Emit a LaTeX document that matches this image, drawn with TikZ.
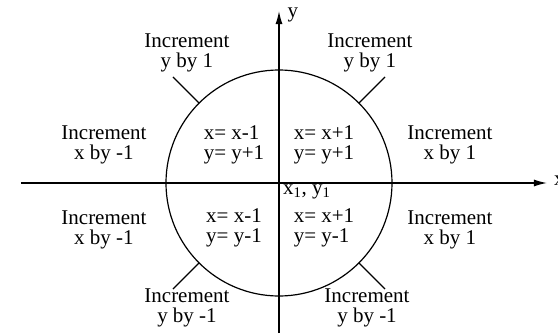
\documentclass[tikz,border=0pt]{standalone}
\usepackage{fontspec}
\setmainfont{Liberation Serif}
\usetikzlibrary{arrows.meta}

\begin{document}
\begin{tikzpicture}[x=1pt, y=1pt, font=\fontsize{21}{20}\selectfont,
  incr/.style={align=center, inner sep=0pt}, rule/.style={align=left, inner sep=0pt},
  axis/.style={line width=1.4pt, -{Latex[length=13pt, width=7pt]}}]
\useasboundingbox (-279,-150) rectangle (279,183);
\coordinate (O) at (0,0); \draw[line width=1.2pt] (O) circle (113);
\coordinate (xs) at (-258,0); \coordinate (xe) at (268,0); \coordinate (ys) at (0,-150); \coordinate (ye) at (0,172);
\draw[axis] (xs) -- (xe); \draw[axis] (ys) -- (ye);
\node[anchor=west, inner sep=0pt] (xl) at (275,2) {x}; \node[inner sep=0pt] (yl) at (14,168) {y};
\foreach \a in {45,135,225,315} \draw[line width=1.2pt] (\a:113) -- (\a:150);
% octant labels
\node[incr] (yup1) at (-92,130) {Increment\\y by 1}; \node[incr] (yup2) at (91,130) {Increment\\y by 1};
\node[incr] (xdn1) at (-175,38) {Increment\\x by -1}; \node[incr] (xup1) at (171,38) {Increment\\x by 1};
\node[incr] (xdn2) at (-175,-47) {Increment\\x by -1}; \node[incr] (xup2) at (171,-47) {Increment\\x by 1};
\node[incr] (ydn1) at (-92,-125) {Increment\\y by -1}; \node[incr] (ydn2) at (88,-125) {Increment\\y by -1};
% quadrant rules
\node[rule] (q2) at (-45,38) {x= x-1\\y= y+1}; \node[rule] (q1) at (45,38) {x= x+1\\y= y+1};
\node[rule] (q3) at (-45,-45) {x= x-1\\y= y-1}; \node[rule] (q4) at (45,-45) {x= x+1\\y= y-1};
\node[anchor=west, inner sep=0pt] (start) at (4,-9) {x\textsubscript{1}, y\textsubscript{1}};
\end{tikzpicture}
\end{document}
